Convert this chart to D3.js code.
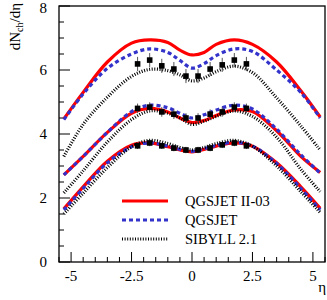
<!DOCTYPE html>
<html>
<head>
<meta charset="utf-8">
<script src="https://cdn.jsdelivr.net/npm/d3@7"></script>
<style>
  body { margin: 0; background: #fff; }
</style>
</head>
<body>
<div id="chart"></div>
<script>
let svgWidth = 327;
let svgHeight = 300;

// eta grid for the model curves
let etaGrid = [-5.3, -4.5, -3.5, -2.5, -1.75, -1, -0.5, 0, 0.5, 1, 1.75, 2.5, 3.5, 4.5, 5.3];

// three energies: top, middle, lower
let qgsjet2Top = [4.47, 5.3, 6.25, 6.84, 6.94, 6.86, 6.62, 6.47, 6.55, 6.8, 6.94, 6.8, 6.25, 5.35, 4.53];
let qgsjetTop  = [4.45, 5.25, 6.05, 6.5, 6.66, 6.55, 6.3, 6.06, 6.2, 6.45, 6.66, 6.58, 6.0, 5.3, 4.5];
let sibyllTop  = [3.3, 4.3, 5.15, 5.8, 6.02, 5.98, 5.85, 5.66, 5.75, 5.95, 6.12, 5.92, 5.13, 4.25, 3.5];

let qgsjet2Mid = [2.72, 3.3, 4.05, 4.65, 4.8, 4.69, 4.5, 4.36, 4.42, 4.58, 4.75, 4.7, 4.1, 3.3, 2.8];
let qgsjetMid  = [2.72, 3.3, 4.05, 4.7, 4.9, 4.82, 4.65, 4.5, 4.6, 4.75, 4.9, 4.78, 4.15, 3.35, 2.78];
let sibyllMid  = [2.16, 2.85, 3.75, 4.45, 4.72, 4.65, 4.5, 4.3, 4.4, 4.55, 4.72, 4.55, 3.9, 2.9, 2.2];

let qgsjet2Low = [1.66, 2.35, 3.15, 3.65, 3.72, 3.6, 3.5, 3.44, 3.52, 3.62, 3.72, 3.62, 3.1, 2.35, 1.68];
let qgsjetLow  = [1.63, 2.3, 3.1, 3.6, 3.72, 3.62, 3.52, 3.46, 3.54, 3.64, 3.74, 3.62, 3.08, 2.3, 1.63];
let sibyllLow  = [1.5, 2.15, 2.95, 3.6, 3.8, 3.7, 3.58, 3.5, 3.58, 3.7, 3.8, 3.62, 3.0, 2.2, 1.55];

// measured points
let dataEta = [-2.25, -1.75, -1.25, -0.75, -0.25, 0.25, 0.75, 1.25, 1.75, 2.25];
let dataTop = [6.19, 6.31, 6.13, 6.03, 5.81, 5.81, 6.03, 6.16, 6.31, 6.19];
let dataMid = [4.8, 4.84, 4.69, 4.62, 4.5, 4.5, 4.62, 4.69, 4.84, 4.8];
let dataLow = [3.63, 3.72, 3.63, 3.56, 3.5, 3.5, 3.56, 3.66, 3.72, 3.63];
let dataErr = [0.22, 0.15, 0.1];

let xMajor = [-5, -2.5, 0, 2.5, 5];
let xMajorLabels = ["-5", "-2.5", "0", "2.5", "5"];
let yMajor = [0, 2, 4, 6, 8];

let legendLabels = ["QGSJET II-03", "QGSJET", "SIBYLL 2.1"];

let styles = {
  qgsjet2: { stroke: "#ff0000", width: 3.2, dash: null },
  qgsjet:  { stroke: "#3333cc", width: 3.2, dash: "4,3" },
  sibyll:  { stroke: "#000000", width: 3.2, dash: "1,1.6" }
};

let plotLeft = 59, plotRight = 325, plotTop = 6, plotBottom = 262;
let serif = "'Liberation Serif', 'Times New Roman', Times, serif";

let svg = d3.select("#chart").append("svg")
  .attr("width", svgWidth).attr("height", svgHeight)
  .attr("font-family", serif);

let x = d3.scaleLinear().domain([-5.5, 5.5]).range([plotLeft, plotRight]);
let y = d3.scaleLinear().domain([0, 8]).range([plotBottom, plotTop]);

// frame
svg.append("rect")
  .attr("x", plotLeft).attr("y", plotTop)
  .attr("width", plotRight - plotLeft).attr("height", plotBottom - plotTop)
  .attr("fill", "none").attr("stroke", "#000").attr("stroke-width", 1.3);

// x ticks (inward)
let xMinor = d3.range(-5.5, 5.51, 0.5);
svg.append("g").selectAll("line")
  .data(xMinor)
  .enter().append("line")
  .attr("x1", d => x(d)).attr("x2", d => x(d))
  .attr("y1", plotBottom)
  .attr("y2", d => xMajor.some(m => Math.abs(m - d) < 1e-6) ? plotBottom - 10 : plotBottom - 5)
  .attr("stroke", "#000").attr("stroke-width", 1);

svg.append("g").selectAll("text")
  .data(xMajor)
  .enter().append("text")
  .attr("x", d => x(d))
  .attr("y", 281)
  .attr("text-anchor", "middle")
  .attr("font-size", 15)
  .text((d, i) => xMajorLabels[i]);

// y ticks (inward)
let yMinor = d3.range(0, 8.01, 0.5);
svg.append("g").selectAll("line")
  .data(yMinor)
  .enter().append("line")
  .attr("y1", d => y(d)).attr("y2", d => y(d))
  .attr("x1", plotLeft)
  .attr("x2", d => yMajor.includes(d) ? plotLeft + 11 : plotLeft + 5)
  .attr("stroke", "#000").attr("stroke-width", 1);

svg.append("g").selectAll("text")
  .data(yMajor)
  .enter().append("text")
  .attr("x", 47)
  .attr("y", d => Math.max(y(d) + 5, 13))
  .attr("text-anchor", "end")
  .attr("font-size", 15)
  .text(d => d);

// axis titles
let yTitle = svg.append("text")
  .attr("transform", "translate(20, 3) rotate(-90)")
  .attr("text-anchor", "end")
  .attr("font-size", 15);
yTitle.append("tspan").text("dN");
yTitle.append("tspan").attr("font-size", 10).attr("dy", 3).text("ch");
yTitle.append("tspan").attr("dy", -3).text("/dη");

svg.append("text")
  .attr("x", 326).attr("y", 292)
  .attr("text-anchor", "end")
  .attr("font-size", 15)
  .text("η");

// curves
let line = d3.line()
  .x(d => x(d[0]))
  .y(d => y(d[1]))
  .curve(d3.curveCatmullRom.alpha(0.5));

let curves = [
  [qgsjet2Top, "qgsjet2"], [qgsjet2Mid, "qgsjet2"], [qgsjet2Low, "qgsjet2"],
  [qgsjetTop, "qgsjet"], [qgsjetMid, "qgsjet"], [qgsjetLow, "qgsjet"],
  [sibyllTop, "sibyll"], [sibyllMid, "sibyll"], [sibyllLow, "sibyll"]
];

let plot = svg.append("g");
curves.forEach(c => {
  let st = styles[c[1]];
  plot.append("path")
    .datum(etaGrid.map((e, i) => [e, c[0][i]]))
    .attr("d", line)
    .attr("fill", "none")
    .attr("stroke", st.stroke)
    .attr("stroke-width", st.width)
    .attr("stroke-dasharray", st.dash);
});

// data points with error bars
[dataTop, dataMid, dataLow].forEach((vals, k) => {
  let pts = dataEta.map((e, i) => ({ eta: e, v: vals[i], err: dataErr[k] }));
  plot.append("g").selectAll("line")
    .data(pts)
    .enter().append("line")
    .attr("x1", d => x(d.eta)).attr("x2", d => x(d.eta))
    .attr("y1", d => y(d.v - d.err)).attr("y2", d => y(d.v + d.err))
    .attr("stroke", "#555").attr("stroke-width", 1);
  plot.append("g").selectAll("rect")
    .data(pts)
    .enter().append("rect")
    .attr("x", d => x(d.eta) - 2.8).attr("y", d => y(d.v) - 2.8)
    .attr("width", 5.6).attr("height", 5.6)
    .attr("fill", "#000");
});

// legend
let legendKeys = ["qgsjet2", "qgsjet", "sibyll"];
let legend = svg.append("g");
legendKeys.forEach((k, i) => {
  let ly = 201 + i * 19;
  let st = styles[k];
  legend.append("line")
    .attr("x1", 122).attr("x2", 168)
    .attr("y1", ly).attr("y2", ly)
    .attr("stroke", st.stroke)
    .attr("stroke-width", st.width)
    .attr("stroke-dasharray", st.dash);
  legend.append("text")
    .attr("x", 185).attr("y", ly + 5)
    .attr("font-size", 14.5)
    .text(legendLabels[i]);
});
</script>
</body>
</html>
